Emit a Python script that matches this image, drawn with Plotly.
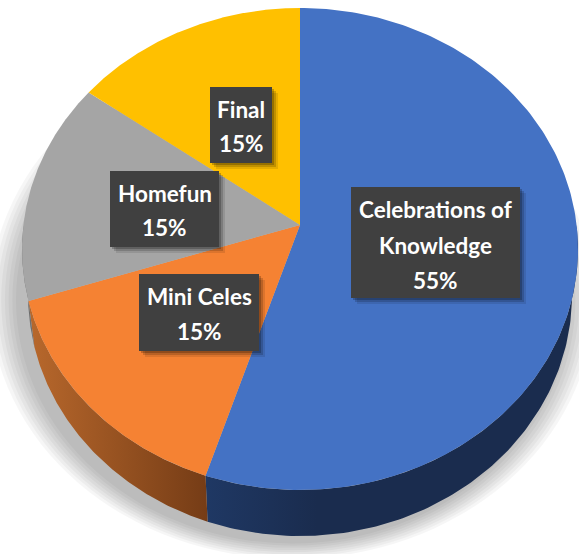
import numpy as np
import plotly.graph_objects as go

# --- data ---
categories = ["Celebrations of Knowledge", "Mini Celes", "Homefun", "Final"]
shares = [55, 15, 15, 15]
label_lines = [["Celebrations of", "Knowledge"], ["Mini Celes"], ["Homefun"], ["Final"]]

# --- styles ---
top_colors = ["#4472C4", "#F58233", "#A5A5A5", "#FFC000"]
wall_stops = [[[0, "#1F3864"], [0.3, "#1A2C4E"], [1, "#1A2C4E"]],
              [[0, "#B8682C"], [1, "#753C16"]],
              [[0, "#6E6E6E"], [1, "#6E6E6E"]],
              [[0, "#A88000"], [1, "#A88000"]]]
W, H = 579, 554
TOP = dict(cx=300, cy=249, rx=278, ry=241)
BOTTOM = dict(cx=300, cy=295, rx=272, ry=241)
TILT = 0.1  # perspective: moves the pie's centre towards the far edge
# box left, top, right, bottom and baseline centres for each label
boxes = [(351, 187, 520, 298, [209, 245, 280]),
         (139, 274, 259, 351, [296, 331]),
         (110, 171, 219, 247, [193, 227]),
         (210, 87, 272, 163, [109, 143])]
FONT_SIZE = 22.5


def project(frac, ell):
    """Clockwise-from-top pie fraction -> screen x, y on a tilted disc's rim."""
    a = 2 * np.pi * np.asarray(frac, dtype=float)
    den = 1 + TILT * np.cos(a)
    c = (np.cos(a) + TILT) / den
    s = np.sqrt(1 - TILT ** 2) * np.sin(a) / den
    return ell["cx"] + ell["rx"] * s, ell["cy"] - ell["ry"] * c


fig = go.Figure()

# soft drop shadow: stacked translucent ellipses, drawn as layout shapes below the traces
theta = np.linspace(0, 2 * np.pi, 241)
for grow in np.linspace(30, 4, 8):
    fig.add_shape(type="circle", x0=292 - (272 + grow), x1=292 + (272 + grow),
                  y0=300 - (241 + grow * 0.6), y1=300 + (241 + grow * 0.6),
                  line_width=0, fillcolor="rgba(0,0,0,0.035)", layer="below")

edges = np.cumsum([0] + shares) / sum(shares)
centre_x, centre_y = TOP["cx"], TOP["cy"] - TOP["ry"] * TILT

# side wall, near half of the rim only
for i, name in enumerate(categories):
    lo, hi = max(edges[i], 0.25), min(edges[i + 1], 0.75)
    if hi <= lo:
        continue
    f = np.linspace(lo, hi, 120)
    xt, yt = project(f, TOP)
    xb, yb = project(f, BOTTOM)
    fig.add_trace(go.Scatter(
        x=np.r_[xt, xb[::-1]], y=np.r_[yt, yb[::-1]],
        mode="lines", line=dict(width=0), fill="toself",
        fillgradient=dict(type="horizontal", colorscale=wall_stops[i]),
        name=name, hoverinfo="name", showlegend=False))

# top face
for i, name in enumerate(categories):
    f = np.linspace(edges[i], edges[i + 1], 200)
    xt, yt = project(f, TOP)
    fig.add_trace(go.Scatter(
        x=np.r_[centre_x, xt, centre_x], y=np.r_[centre_y, yt, centre_y],
        mode="lines", line=dict(width=0), fill="toself",
        fillcolor=top_colors[i], name=name, hoverinfo="name", showlegend=False))

# label boxes with shadows
for i, (x0, y0, x1, y1, ys) in enumerate(boxes):
    for d, alpha in ((6, 0.10), (4, 0.16), (2, 0.22)):
        fig.add_shape(type="rect", x0=x0 + d, x1=x1 + d, y0=y0 + d, y1=y1 + d,
                      line_width=0, fillcolor=f"rgba(0,0,0,{alpha})", layer="above")
    fig.add_shape(type="rect", x0=x0, x1=x1, y0=y0, y1=y1,
                  line_width=0, fillcolor="#404040", layer="above")
    for text, yy in zip(label_lines[i] + [f"{shares[i]}%"], ys):
        fig.add_annotation(x=(x0 + x1) / 2, y=yy, text=text, showarrow=False,
                           xanchor="center", yanchor="middle",
                           font=dict(family="Lato", size=FONT_SIZE, color="white", weight=700))

fig.update_layout(
    width=W, height=H, margin=dict(l=0, r=0, t=0, b=0, pad=0),
    paper_bgcolor="white", plot_bgcolor="white", showlegend=False,
    xaxis=dict(range=[0, W], visible=False, fixedrange=True),
    yaxis=dict(range=[H, 0], visible=False, fixedrange=True),
)
fig.write_html("out.html", config=dict(displayModeBar=False),
               post_script="document.body.style.margin='0';document.documentElement.style.overflow='hidden';")
